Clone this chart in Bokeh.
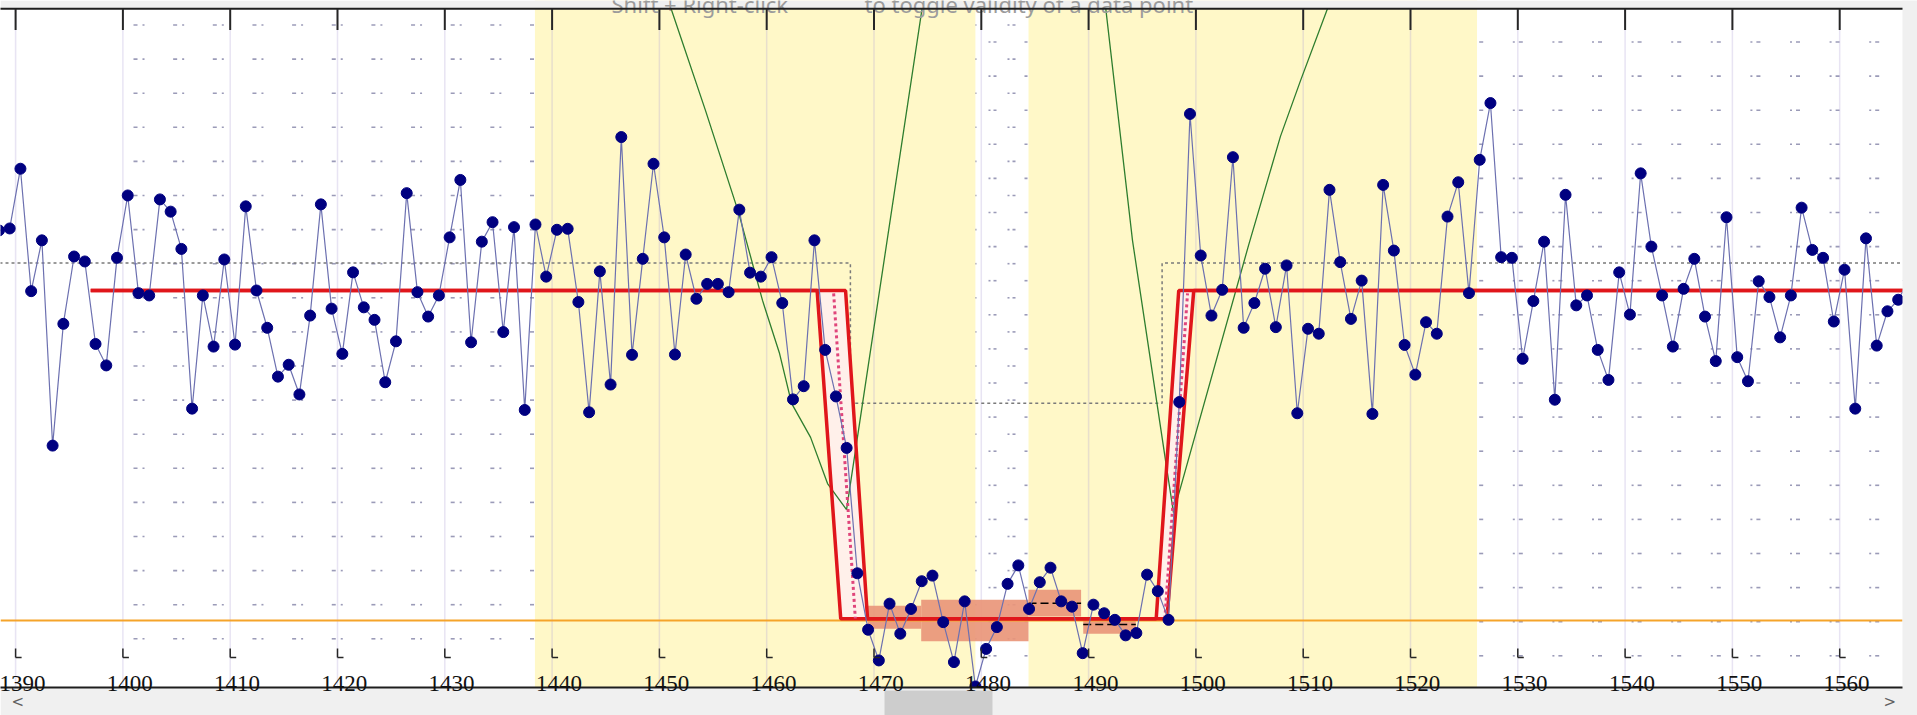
import numpy as np
from bokeh.plotting import figure
from bokeh.models import Range1d, BoxAnnotation, Label
from bokeh.core.properties import value
from bokeh.embed import file_html
from bokeh.resources import INLINE

# ------------------------------------------------------------------ data
first_sample = 1388
sample_shift = 0.45
y_values = [
    118.2, 118.8, 136.9, 99.8, 115.2, 53.0, 89.9, 110.3, 108.8, 83.8,      # 1388-1397
    77.3, 109.9, 128.8, 99.2, 98.5, 127.6, 123.9, 112.6, 64.2, 98.5,       # 1398-1407
    83.0, 109.4, 83.6, 125.5, 100.0, 88.7, 73.9, 77.5, 68.5, 92.4,         # 1408-1417
    126.1, 94.5, 80.8, 105.5, 94.9, 91.1, 72.2, 84.6, 129.5, 99.5,         # 1418-1427
    92.1, 98.5, 116.1, 133.5, 84.3, 114.8, 120.7, 87.4, 119.2, 63.8,       # 1428-1437
    120.0, 104.2, 118.4, 118.7, 96.5, 63.1, 105.8, 71.5, 146.5, 80.5,      # 1438-1447
    109.6, 138.4, 116.1, 80.6, 110.9, 97.5, 102.0, 102.0, 99.5, 124.5,     # 1448-1457
    105.4, 104.2, 110.1, 96.2, 67.0, 71.0, 115.2, 82.0, 67.9, 52.3,        # 1458-1467
    14.3, -2.8, -12.1, 5.1, -4.0, 3.5, 11.9, 13.6, -0.5, -12.6,            # 1468-1477
    5.8, -20.0, -8.6, -2.0, 11.1, 16.7, 3.5, 11.6, 16.0, 5.8,              # 1478-1487
    4.2, -9.9, 4.8, 2.2, 0.2, -4.5, -3.8, 13.9, 8.9, 0.2,                  # 1488-1497
    66.2, 153.5, 110.6, 92.4, 100.2, 140.4, 88.7, 96.2, 106.6, 88.9,       # 1498-1507
    107.6, 62.8, 88.4, 86.9, 130.5, 108.6, 91.4, 103.0, 62.6, 132.0,       # 1508-1517
    112.1, 83.5, 74.5, 90.4, 86.9, 122.4, 132.8, 99.2, 139.6, 156.8,       # 1518-1527
    110.1, 109.9, 79.3, 96.8, 114.8, 66.9, 129.0, 95.5, 98.5, 82.0,        # 1528-1537
    72.9, 105.5, 92.7, 135.5, 113.3, 98.5, 83.0, 100.5, 109.6, 92.1,       # 1538-1547
    78.6, 122.2, 79.8, 72.5, 102.8, 98.0, 85.8, 98.5, 125.1, 112.3,        # 1548-1557
    109.9, 90.6, 106.3, 64.2, 115.8, 83.3, 93.7, 97.2, 103.0,              # 1558-1566
]
x_values = [first_sample + i + sample_shift for i in range(len(y_values))]

tick_values = [1390, 1400, 1410, 1420, 1430, 1440, 1450, 1460, 1470,
               1480, 1490, 1500, 1510, 1520, 1530, 1540, 1550, 1560]
tick_labels = ["1390", "1400", "1410", "1420", "1430", "1440", "1450", "1460", "1470",
               "1480", "1490", "1500", "1510", "1520", "1530", "1540", "1550", "1560"]

# shaded (yellow) ranges
band_left = [1438.4, 1484.4]
band_right = [1479.45, 1526.2]

# fitted step model: two bounding curves (red)
fit_outer_x = [1397.0, 1464.7, 1466.9, 1497.3, 1499.8, 1566.5]
fit_outer_y = [100.0, 100.0, 0.5, 0.5, 100.0, 100.0]
fit_inner_x = [1397.0, 1467.35, 1469.4, 1496.3, 1498.4, 1566.5]
fit_inner_y = [100.0, 100.0, 0.5, 0.5, 100.0, 100.0]
# central estimate (pink dotted)
mid_drop_x = [1466.24, 1468.26]
mid_drop_y = [99.1, 0.6]
mid_rise_x = [1497.11, 1499.22]
mid_rise_y = [0.6, 99.1]

# reference model (gray dotted)
ref_x = [1388.5, 1467.8, 1467.8, 1496.85, 1496.85, 1566.5]
ref_y = [108.3, 108.3, 65.8, 65.8, 108.3, 108.3]

# profile curves (green)
profile_left_x = [1451.09, 1454.30, 1457.38, 1459.61, 1461.20, 1462.32, 1464.09, 1465.67, 1467.44, 1474.48]
profile_left_y = [185.4, 154.5, 123.6, 97.0, 80.9, 65.8, 55.5, 41.5, 33.6, 185.4]
profile_right_x = [1491.60, 1494.09, 1497.31, 1497.91, 1498.75, 1504.90, 1507.88, 1509.75, 1512.26]
profile_right_y = [185.4, 115.2, 45.5, 32.7, 42.4, 113.6, 146.7, 163.6, 185.4]

# low segments (salmon ranges) and their means
seg_left = [1469.4, 1474.4, 1484.4, 1489.5]
seg_right = [1474.4, 1484.4, 1489.3, 1494.4]
seg_low = [-2.5, -6.3, 1.2, -4.0]
seg_high = [4.5, 6.3, 9.3, 1.0]
mean_left = [1484.4, 1489.5]
mean_right = [1489.3, 1494.4]
mean_level = [5.2, -1.2]

baseline_level = 0.0

hint_parts = ["Shift + Right-click", "to toggle validity of a data point"]

# --------------------------------------------------- pixel <-> data helpers
W, H = 1917, 715
PX_X = 10.73                    # pixels per x unit
X_AT_PX0 = 1390 - 15.1 / PX_X   # x value at the left canvas edge
PX_Y = 3.3                      # pixels per y unit
Y0_PX = 620.0                   # pixel row of y == 0


def xv(px):
    return X_AT_PX0 + px / PX_X


def yv(py):
    return (Y0_PX - py) / PX_Y


FRAME_TOP, FRAME_BOTTOM, FRAME_RIGHT = 8.3, 687.0, 1902.0

p = figure(width=W, height=H,
           x_range=Range1d(xv(0), xv(W)), y_range=Range1d(yv(H), yv(0)),
           x_axis_type=None, y_axis_type=None, min_border=0,
           toolbar_location=None, output_backend="svg",
           background_fill_color="white", border_fill_color="white",
           outline_line_color=None)

# ---------------------------------------------- dotted background texture
dx0, dy0, dx1, dy1 = [], [], [], []


def add_mark(px_a, px_b, py):
    dx0.append(xv(px_a)); dx1.append(xv(px_b))
    dy0.append(yv(py)); dy1.append(yv(py))


rows_a = [24.5 + 34.1 * k for k in range(19)]
rows_b = [41.5 + 34.1 * k for k in range(19)]
for r in rows_a:
    for j in range(11):
        c = 133 + 39.65 * j
        add_mark(c, c + 4, r)
        add_mark(c + 9, c + 11, r)
    add_mark(973, 976, r)
    add_mark(1007, 1009, r)
    add_mark(1012, 1015, r)
for r in rows_b:
    for j in range(11):
        c = 1472.7 + 39.6 * j
        add_mark(c, c + 2, r)
        add_mark(c + 6, c + 10, r)
    add_mark(988, 990, r)
    add_mark(993, 996, r)
    add_mark(1024, 1027, r)
p.segment(x0=dx0, y0=dy0, x1=dx1, y1=dy1, line_color="#8a8aac", line_width=1.6, line_alpha=0.85)

# yellow shaded ranges
p.quad(left=band_left, right=band_right, bottom=yv(H), top=yv(0),
       fill_color="#FFF8C8", line_color=None)

# light vertical grid at major ticks
p.segment(x0=tick_values, x1=tick_values, y0=[yv(FRAME_TOP)] * len(tick_values),
          y1=[yv(FRAME_BOTTOM)] * len(tick_values),
          line_color="#b4a6d8", line_alpha=0.3, line_width=1.5)

# reference model (gray dotted)
p.line(ref_x, ref_y, line_color="#7a7a7a", line_dash="3 3", line_width=1.5)

# salmon segment ranges and means
p.quad(left=seg_left, right=seg_right, bottom=seg_low, top=seg_high,
       fill_color="#E9967A", fill_alpha=0.92, line_color=None)
p.segment(x0=mean_left, x1=mean_right, y0=mean_level, y1=mean_level,
          line_color="black", line_dash="8 4", line_width=1.5)

# orange baseline
p.segment(x0=[xv(0)], x1=[xv(FRAME_RIGHT)], y0=[baseline_level], y1=[baseline_level],
          line_color="#F5A42A", line_width=2)

# light band between the two fitted curves
band_x = fit_outer_x[1:5] + fit_inner_x[1:5][::-1]
band_y = fit_outer_y[1:5] + fit_inner_y[1:5][::-1]
p.patch(band_x, band_y, fill_color="#FFF0EA", line_color=None)

# green profile curves
p.line(profile_left_x, profile_left_y, line_color="#2E7D2E", line_width=1.3)
p.line(profile_right_x, profile_right_y, line_color="#2E7D2E", line_width=1.3)

# red fitted curves
p.line(fit_outer_x, fit_outer_y, line_color="#E0161B", line_width=3.5)
p.line(fit_inner_x, fit_inner_y, line_color="#E0161B", line_width=3.5)
# pink dotted central estimate
p.line(mid_drop_x, mid_drop_y, line_color="#E0457B", line_width=3, line_dash="3 3")
p.line(mid_rise_x, mid_rise_y, line_color="#E0457B", line_width=3, line_dash="3 3")

# data
p.line(x_values, y_values, line_color="#6C70B0", line_width=1.2)
p.scatter(x_values, y_values, marker="circle", size=11,
          fill_color="#000080", line_color="#000080")

# ------------------------------------------------------ window chrome
for box in (BoxAnnotation(bottom=yv(FRAME_TOP)),
            BoxAnnotation(left=xv(FRAME_RIGHT)),
            BoxAnnotation(top=yv(FRAME_BOTTOM))):
    box.fill_color = "#F0F0F0"
    box.fill_alpha = 1.0
    box.line_color = None
    p.add_layout(box)

thumb = BoxAnnotation(left=xv(884), right=xv(992), top=yv(690), fill_color="#CDCDCD",
                      fill_alpha=1.0, line_color=None)
p.add_layout(thumb)

p.add_layout(Label(x=xv(611), y=yv(3.5), text=hint_parts[0], text_font="Noto Sans",
                   text_font_size="22px", text_color="#9C9C9C", text_baseline="alphabetic"))
p.add_layout(Label(x=xv(864), y=yv(3.5), text=hint_parts[1], text_font="Noto Sans",
                   text_font_size="22px", text_color="#9C9C9C", text_baseline="alphabetic"))
p.add_layout(Label(x=xv(11), y=yv(701), text="<", text_font="DejaVu Sans",
                   text_font_size="15px", text_color="#606060", text_baseline="middle"))
p.add_layout(Label(x=xv(1883), y=yv(701), text=">", text_font="DejaVu Sans",
                   text_font_size="15px", text_color="#606060", text_baseline="middle"))

# axis lines (top and bottom)
p.segment(x0=[xv(0), xv(0)], x1=[xv(FRAME_RIGHT), xv(FRAME_RIGHT)],
          y0=[yv(FRAME_TOP), yv(FRAME_BOTTOM)], y1=[yv(FRAME_TOP), yv(FRAME_BOTTOM)],
          line_color="#1e1e1e", line_width=2, level="overlay")

# top ticks
n = len(tick_values)
p.segment(x0=tick_values, x1=tick_values, y0=[yv(FRAME_TOP)] * n, y1=[yv(29.5)] * n,
          line_color="#262626", line_width=2, level="overlay")
# bottom "L" ticks
foot = 6 / PX_X
p.segment(x0=tick_values, x1=tick_values, y0=[yv(648)] * n, y1=[yv(657)] * n,
          line_color="#262626", line_width=1.5, level="overlay")
p.segment(x0=tick_values, x1=[t + foot for t in tick_values], y0=[yv(657)] * n,
          y1=[yv(657)] * n, line_color="#262626", line_width=1.5, level="overlay")
# tick labels
p.text(x=tick_values, y=[yv(683)] * n, text=tick_labels, x_offset=6.8,
       text_align="center", text_baseline="alphabetic",
       text_font=value("Liberation Sans Narrow"), text_font_size="23px",
       text_color="#111111", level="overlay")

open("out.html", "w").write(file_html(p, INLINE))
